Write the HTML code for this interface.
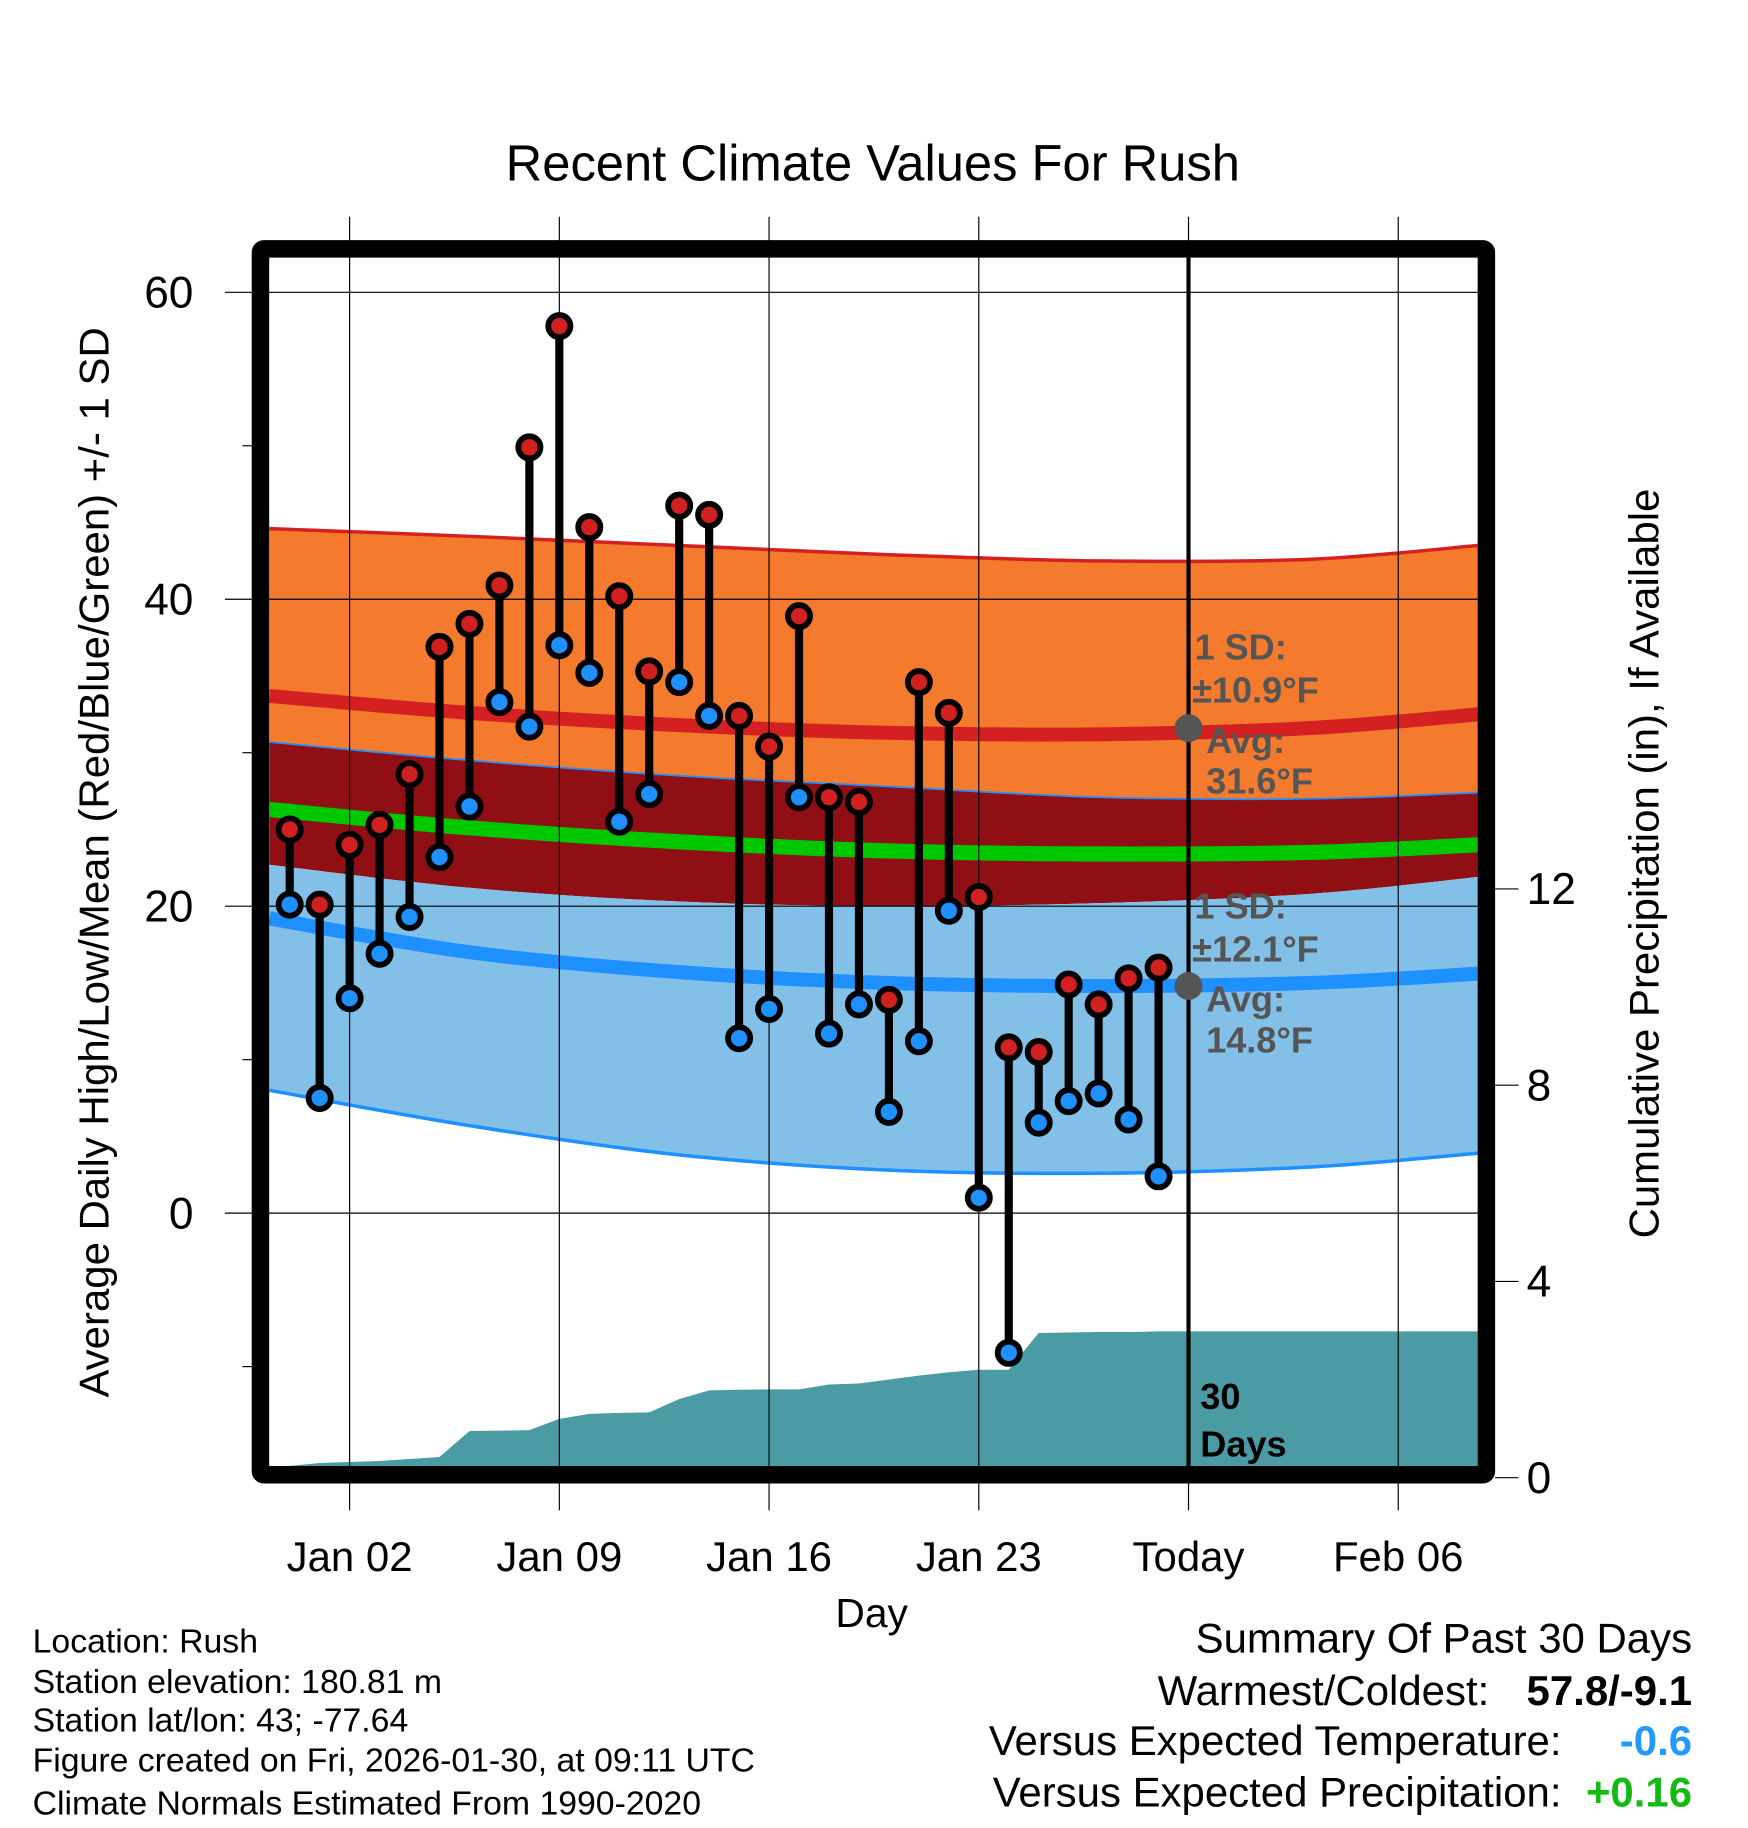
<!DOCTYPE html>
<html><head><meta charset="utf-8"><style>
html,body{margin:0;padding:0;background:#fff}
svg{display:block}
text{font-family:"Liberation Sans",Arial,sans-serif}
</style></head><body>
<svg id="chart" xmlns="http://www.w3.org/2000/svg" width="1748" height="1828" viewBox="0 0 1500 1568.6">
<g id="bands"></g>
<g id="precip"></g>
<g id="grid"></g>
<g id="marks"></g>
<g id="annot"></g>
<rect x="223.5" y="213.5" width="1052" height="1052" rx="3" fill="none" stroke="#000" stroke-width="15" stroke-linejoin="round"/>
<text x="749" y="155" font-size="43.5" text-anchor="middle">Recent Climate Values For Rush</text>
<g id="axes"></g>
<text x="748" y="1396" font-size="35" text-anchor="middle">Day</text>
<text transform="translate(93,740) rotate(-90)" font-size="36" text-anchor="middle">Average Daily High/Low/Mean (Red/Blue/Green) +/- 1 SD</text>
<text transform="translate(1423,741) rotate(-90)" font-size="36" text-anchor="middle">Cumulative Precipitation (in), If Available</text>
<g font-size="29">
<text x="28" y="1418">Location: Rush</text>
<text x="28" y="1453">Station elevation: 180.81 m</text>
<text x="28" y="1486">Station lat/lon: 43; -77.64</text>
<text x="28" y="1520">Figure created on Fri, 2026-01-30, at 09:11 UTC</text>
<text x="28" y="1557">Climate Normals Estimated From 1990-2020</text>
</g>
<g font-size="36">
<text x="1452" y="1418" text-anchor="end">Summary Of Past 30 Days</text>
<text x="1278" y="1463" text-anchor="end">Warmest/Coldest:</text>
<text x="1452" y="1463" text-anchor="end" font-weight="bold">57.8/-9.1</text>
<text x="1340" y="1506" text-anchor="end">Versus Expected Temperature:</text>
<text x="1452" y="1506" text-anchor="end" font-weight="bold" fill="#2299ff">-0.6</text>
<text x="1340" y="1550" text-anchor="end">Versus Expected Precipitation:</text>
<text x="1452" y="1550" text-anchor="end" font-weight="bold" fill="#11bb11">+0.16</text>
</g>
</svg>
<script>
// ---- data ----
const highs = [25.0,20.1,24.0,25.3,28.6,36.9,38.4,40.9,49.9,57.8,44.7,40.2,35.3,46.1,45.5,32.4,30.4,38.9,27.1,26.8,13.9,34.6,32.6,20.6,10.8,10.5,14.9,13.6,15.3,16.0];
const lows  = [20.1,7.5,14.0,16.9,19.3,23.2,26.5,33.3,31.7,37.0,35.2,25.5,27.3,34.6,32.4,11.4,13.3,27.1,11.7,13.6,6.6,11.2,19.7,1.0,-9.1,5.9,7.3,7.8,6.1,2.4];
const precip = [0.24,0.3,0.32,0.34,0.38,0.42,0.95,0.96,0.97,1.2,1.3,1.32,1.33,1.6,1.78,1.79,1.8,1.8,1.9,1.92,2.0,2.08,2.15,2.2,2.2,2.95,2.96,2.97,2.97,2.98];
const normDays = [-1.68,5,12,19,26,33,38.66];
const hiUpper = [44.6,44.1,43.5,42.9,42.5,42.6,43.5];
const hiMean  = [33.7,32.6,31.8,31.3,31.2,31.6,32.5];
const hiLower = [30.7,29.5,28.5,27.8,27.1,27.0,27.4];
const meanT   = [26.3,25.1,24.2,23.6,23.4,23.5,24.0];
const loUpper = [22.7,21.2,20.3,20.0,20.2,20.8,21.9];
const loMean  = [19.2,17.0,15.7,15.0,14.8,15.0,15.6];
const loLower = [8.0,5.7,3.8,2.8,2.6,3.0,3.9];
const yTicks = [60,40,20,0];
const yMinor = [50,30,10,-10];
const y2Ticks = [12,8,4,0];
const xTickDays = [1,8,15,22,29,36];
const xTickLabels = ["Jan 02","Jan 09","Jan 16","Jan 23","Today","Feb 06"];
const firstDay = -1; // Dec 31 relative to Jan 1
const todayDay = 29;
// ---- scales ----
const X = d => 274.3 + d*25.71;
const Y = v => 1041 - v*13.17;
const Y2 = p => 1268 - p*42.1;
const L = 231, R = 1268, T = 221, B = 1259;
const NS = "http://www.w3.org/2000/svg";
function mk(tag, attrs, parent){const e=document.createElementNS(NS,tag);for(const k in attrs)e.setAttribute(k,attrs[k]);parent.appendChild(e);return e;}
const bands = document.getElementById('bands');
function pts(arr){return normDays.map((d,i)=>[X(d),Y(arr[i])]);}
function smooth(p, start){
  let s = (start?'M':'L')+p[0][0].toFixed(1)+','+p[0][1].toFixed(1);
  for(let i=0;i<p.length-1;i++){
    const p0=p[i-1]||p[i], p1=p[i], p2=p[i+1], p3=p[i+2]||p2;
    const c1=[p1[0]+(p2[0]-p0[0])/6, p1[1]+(p2[1]-p0[1])/6];
    const c2=[p2[0]-(p3[0]-p1[0])/6, p2[1]-(p3[1]-p1[1])/6];
    s+=' C'+c1.map(v=>v.toFixed(1)).join(',')+' '+c2.map(v=>v.toFixed(1)).join(',')+' '+p2.map(v=>v.toFixed(1)).join(',');
  }
  return s;
}
function band(top,bot,fill,name){
  const d = smooth(pts(top),true)+' '+smooth(pts(bot).reverse(),false)+' Z';
  const e = mk('path',{d:d,fill:fill},bands);
  
  
}
function stroke(arr,col,w,name){
  const e = mk('path',{d:smooth(pts(arr),true),fill:'none',stroke:col,'stroke-width':w},bands);
  
  
}
band(hiUpper,hiLower,'#f47a2e','high-sd-band');
band(hiLower,loUpper,'#900f14','overlap-band');
band(loUpper,loLower,'#82c0e8','low-sd-band');
stroke(hiUpper,'#d42020',3,'high-upper-line');
stroke(hiLower,'#1e90ff',1.5,'high-lower-line');
stroke(hiMean,'#d42020',12,'high-mean-line');
stroke(meanT,'#00c800',13,'mean-line');
stroke(loMean,'#1e90ff',12,'low-mean-line');
stroke(loLower,'#1e90ff',3,'low-lower-line');
// precip
const pg = document.getElementById('precip');
let pp = [[X(firstDay-0.5),B],[X(firstDay-0.5),Math.min(B,Y2(precip[0])+1)]];
precip.forEach((p,i)=>pp.push([X(firstDay+i),Math.min(B,Y2(p))]));
pp.push([R,Y2(precip[precip.length-1])]);pp.push([R,B]);
const pe = mk('polygon',{points:pp.map(a=>a[0].toFixed(1)+','+a[1].toFixed(1)).join(' '),fill:'#4a9ba4'},pg);


// grid & axes
const gg = document.getElementById('grid'), ax = document.getElementById('axes');
xTickDays.forEach((d,i)=>{
  const gl = mk('line',{x1:X(d),x2:X(d),y1:186,y2:B,stroke:'#000','stroke-width':1},gg);
  
  
  const tl = mk('line',{x1:X(d),x2:X(d),y1:1273,y2:1296,stroke:'#000','stroke-width':1},ax);
  
  
  const t = mk('text',{x:X(d),y:1348,'font-size':36,'text-anchor':'middle'},ax);
  t.textContent = xTickLabels[i];
  
  
});
const tline = mk('line',{x1:X(todayDay),x2:X(todayDay),y1:T,y2:B,stroke:'#000','stroke-width':3.5},gg);


yTicks.forEach(v=>{
  const gl = mk('line',{x1:193,x2:R,y1:Y(v),y2:Y(v),stroke:'#000','stroke-width':1},gg);
  
  
  const t = mk('text',{x:166,y:Y(v)+13,'font-size':38,'text-anchor':'end'},ax);
  t.textContent = v;
  
  
});
yMinor.forEach(v=>{
  const tl = mk('line',{x1:208,x2:216,y1:Y(v),y2:Y(v),stroke:'#000','stroke-width':1},ax);
  
  
});
y2Ticks.forEach(v=>{
  const tl = mk('line',{x1:1283,x2:1303,y1:Y2(v),y2:Y2(v),stroke:'#000','stroke-width':1},ax);
  
  
  const t = mk('text',{x:1310,y:Y2(v)+13,'font-size':38},ax);
  t.textContent = v;
  
  
});
// marks
const mg = document.getElementById('marks');
highs.forEach((h,i)=>{
  const x = X(firstDay+i);
  const s = mk('line',{x1:x,x2:x,y1:Y(h),y2:Y(lows[i]),stroke:'#000','stroke-width':7},mg);
  
  
});
highs.forEach((h,i)=>{
  const x = X(firstDay+i);
  const c1 = mk('circle',{cx:x,cy:Y(h),r:9.5,fill:'#d02020',stroke:'#000','stroke-width':5},mg);
  
  
  const c2 = mk('circle',{cx:x,cy:Y(lows[i]),r:9.5,fill:'#1e90ff',stroke:'#000','stroke-width':5},mg);
  
  
});
// annotations
const an = document.getElementById('annot');
function txt(s,x,y,fill,name){const t=mk('text',{x:x,y:y,'font-size':31,'font-weight':'bold',fill:fill},an);t.textContent=s;}
const hx = X(todayDay);
const d1 = mk('circle',{cx:hx,cy:Y(31.6),r:12,fill:'#555'},an);


const d2 = mk('circle',{cx:hx,cy:Y(14.8),r:12,fill:'#555'},an);


txt('1 SD:',1025,566,'#555','high-sd-label');
txt('±10.9°F',1023,603,'#555','high-sd-value');
txt('Avg:',1035,646,'#555','high-avg-label');
txt('31.6°F',1035,681,'#555','high-avg-value');
txt('1 SD:',1025,788,'#555','low-sd-label');
txt('±12.1°F',1023,825,'#555','low-sd-value');
txt('Avg:',1035,868,'#555','low-avg-label');
txt('14.8°F',1035,903,'#555','low-avg-value');
txt('30',1030,1209,'#000','days-count');
txt('Days',1030,1250,'#000','days-label');
</script>
</body></html>
